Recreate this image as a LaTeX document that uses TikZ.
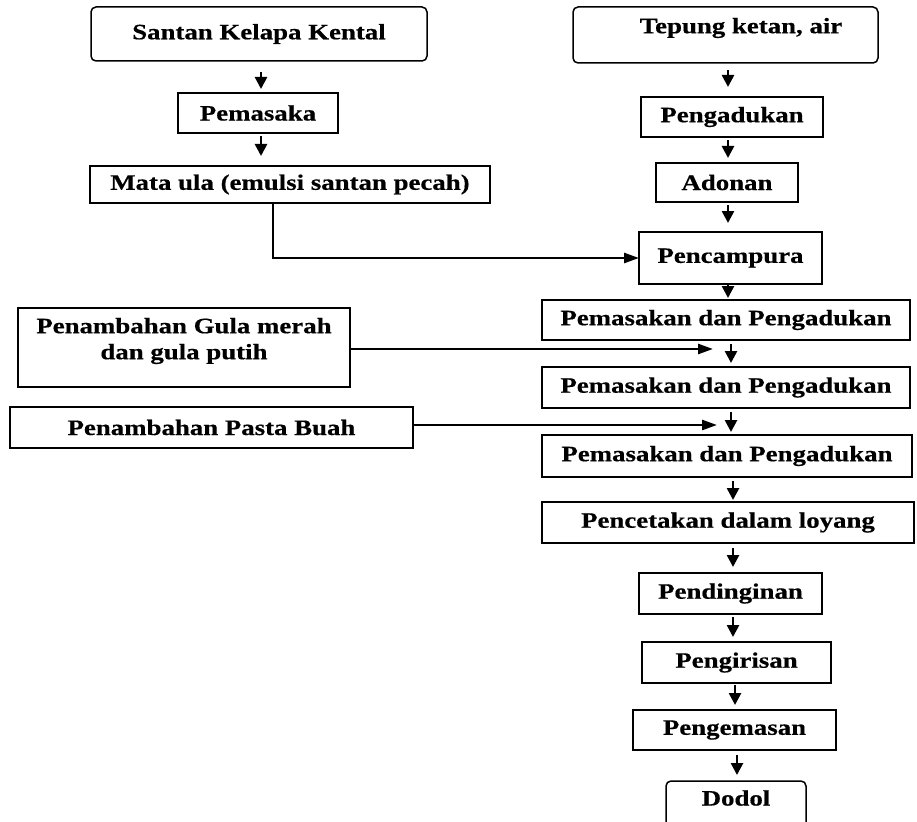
\documentclass[tikz,border=0pt]{standalone}
\usepackage{fontspec}
\setmainfont{Liberation Serif}[FakeStretch=1.22,BoldFeatures={FakeBold=0.5}]
\usetikzlibrary{arrows.meta}
\begin{document}
\begin{tikzpicture}[x=1pt,y=-1pt,
  box/.style={draw,line width=1.5pt,inner sep=0pt,outer sep=0pt,font=\fontsize{22}{26}\selectfont\bfseries,align=center},
  rbox/.style={box,rounded corners=5pt},
  txt/.style={inner sep=0pt,font=\fontsize{22}{26}\selectfont\bfseries,align=center},
  arr/.style={line width=2.6pt,-{Triangle[width=12pt,length=12pt]}},
  conn/.style={line width=2.6pt,-{Triangle[width=10pt,length=15pt]}}
]
\useasboundingbox (0,0) rectangle (917,821);
\clip (0,0) rectangle (917,821);
% left column
\node[rbox,minimum width=336pt,minimum height=54pt] (santan) at (259,34) {Santan Kelapa Kental};
\node[box,minimum width=160pt,minimum height=40pt] (pemasaka) at (258,113) {Pemasaka};
\node[box,minimum width=400pt,minimum height=37pt] (mataula) at (290,184.5) {Mata ula (emulsi santan pecah)};
% right column
\node[rbox,minimum width=305pt,minimum height=56pt] (tepung) at (725.5,35) {};
\node[txt] (tepungtxt) at (741,28) {Tepung ketan, air};
\node[box,minimum width=182pt,minimum height=40pt] (pengadukan) at (732,117) {Pengadukan};
\node[box,minimum width=142pt,minimum height=39pt] (adonan) at (727,182.5) {Adonan};
\node[box,minimum width=183pt,minimum height=52pt] (pencampura) at (730.5,258) {Pencampura};
\node[box,minimum width=368pt,minimum height=40pt] (pem1) at (726,320) {Pemasakan dan Pengadukan};
\node[box,minimum width=368pt,minimum height=41pt] (pem2) at (726,387.5) {Pemasakan dan Pengadukan};
\node[box,minimum width=370pt,minimum height=42pt] (pem3) at (727,456) {Pemasakan dan Pengadukan};
\node[box,minimum width=372pt,minimum height=41pt] (pencetakan) at (728,522.5) {Pencetakan dalam loyang};
\node[box,minimum width=183pt,minimum height=41pt] (pendinginan) at (730.5,593.5) {Pendinginan};
\node[box,minimum width=189pt,minimum height=41pt] (pengirisan) at (736.5,662.5) {Pengirisan};
\node[box,minimum width=203pt,minimum height=40pt] (pengemasan) at (734.5,730) {Pengemasan};
\node[rbox,minimum width=140pt,minimum height=59pt] (dodol) at (736,810.5) {};
\node[txt] (dodoltxt) at (736,798) {Dodol};
% side inputs
\node[box,minimum width=332pt,minimum height=79pt] (gula) at (184,347.5) {};
\node[txt] (gulatxt) at (184,341) {Penambahan Gula merah\\dan gula putih};
\node[box,minimum width=403pt,minimum height=41pt] (pasta) at (211.5,427.5) {Penambahan Pasta Buah};
% column coordinates
\coordinate (xL) at (261,0);
\coordinate (xM) at (273,0);
\coordinate (xA) at (728,0);
\coordinate (xB) at (731,0);
\coordinate (xC) at (733,0);
\coordinate (xD) at (735,0);
\coordinate (xE) at (737,0);
\coordinate (gend) at (713,349);
\coordinate (pend) at (717,425);
% vertical arrows
\draw[arr,shorten <=11pt,shorten >=4pt] (santan.south -| xL) -- (pemasaka.north -| xL);
\draw[arr,shorten <=3pt,shorten >=10pt] (pemasaka.south -| xL) -- (mataula.north -| xL);
\draw[arr,shorten <=7pt,shorten >=10pt] (tepung.south -| xA) -- (pengadukan.north -| xA);
\draw[arr,shorten <=3pt,shorten >=5pt] (pengadukan.south -| xA) -- (adonan.north -| xA);
\draw[arr,shorten <=3pt,shorten >=9pt] (adonan.south -| xA) -- (pencampura.north -| xA);
\draw[arr,shorten <=1pt,shorten >=2pt] (pencampura.south -| xA) -- (pem1.north -| xA);
\draw[arr,shorten <=4pt,shorten >=4pt] (pem1.south -| xB) -- (pem2.north -| xB);
\draw[arr,shorten <=4pt,shorten >=3pt] (pem2.south -| xB) -- (pem3.north -| xB);
\draw[arr,shorten <=4pt,shorten >=2pt] (pem3.south -| xC) -- (pencetakan.north -| xC);
\draw[arr,shorten <=5pt,shorten >=6pt] (pencetakan.south -| xC) -- (pendinginan.north -| xC);
\draw[arr,shorten <=3pt,shorten >=5pt] (pendinginan.south -| xC) -- (pengirisan.north -| xC);
\draw[arr,shorten <=2pt,shorten >=5pt] (pengirisan.south -| xD) -- (pengemasan.north -| xD);
\draw[arr,shorten <=5pt,shorten >=6pt] (pengemasan.south -| xE) -- (dodol.north -| xE);
% horizontal connectors
\draw[conn] (mataula.south -| xM) |- (pencampura.west);
\draw[conn] (gula.east |- gend) -- (gend);
\draw[conn] (pasta.east |- pend) -- (pend);
\end{tikzpicture}
\end{document}
